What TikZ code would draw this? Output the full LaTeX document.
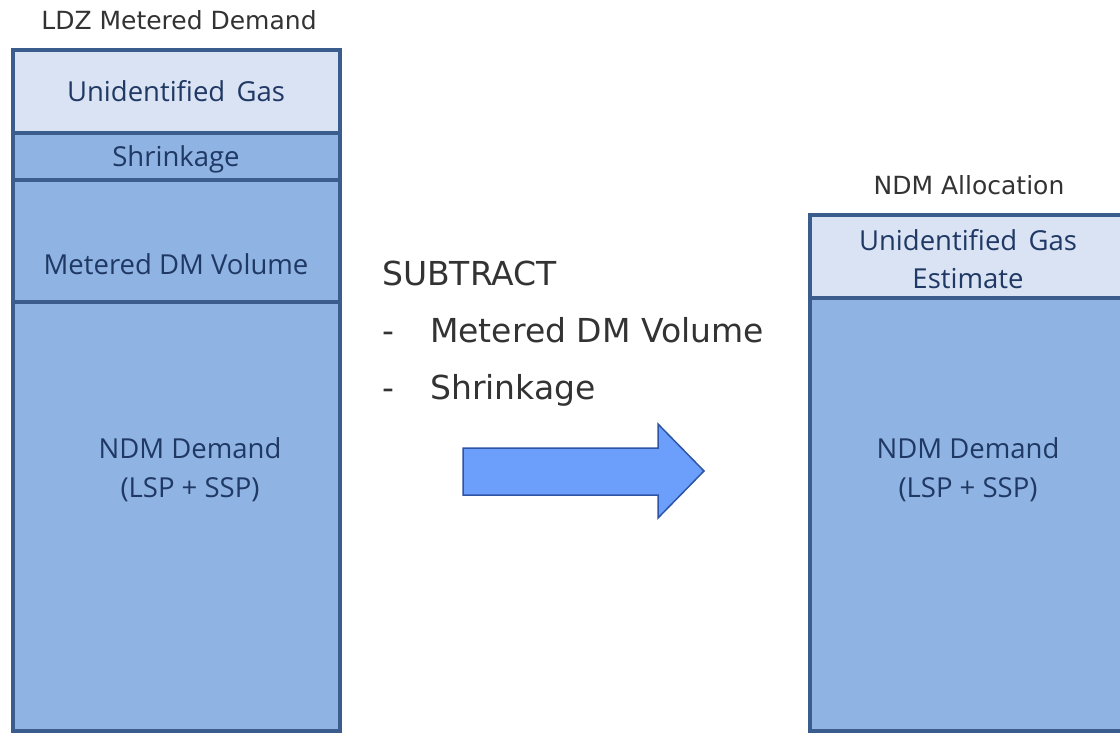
\documentclass[tikz,border=0pt]{standalone}
\usepackage{fontspec}
\setmainfont{DejaVu Sans}
\newfontfamily\boxfont{Open Sans}
\definecolor{segline}{HTML}{3A5D8D}
\definecolor{seglight}{HTML}{DAE3F3}
\definecolor{segmid}{HTML}{8FB3E2}
\definecolor{segtext}{HTML}{1F3864}
\definecolor{titletext}{HTML}{333333}
\definecolor{arrfill}{HTML}{6B9FFB}
\definecolor{arrline}{HTML}{2E55A5}
\tikzset{
  seg/.style={draw=segline, line width=4pt},
  segl/.style={seg, fill=seglight},
  segm/.style={seg, fill=segmid},
  boxtext/.style={inner sep=0pt, text=segtext, font=\boxfont\fontsize{27.5}{39}\selectfont, align=center},
  titlelbl/.style={inner sep=0pt, text=titletext, font=\fontsize{25}{30}\selectfont},
  subtxt/.style={inner sep=0pt, text=titletext, font=\fontsize{33}{40}\selectfont, anchor=base west},
}
\begin{document}
\begin{tikzpicture}[x=1pt,y=-1pt]
\useasboundingbox (0,0) rectangle (1120,733);
\fill[white] (0,0) rectangle (1120,733);
\begin{scope}
\clip (0,0) rectangle (1120,733);
% left column
\draw[segm] (13,302) rectangle (340,731);
\draw[segm] (13,180) rectangle (340,302);
\draw[segm] (13,133) rectangle (340,180);
\draw[segl] (13,50) rectangle (340,133);
% right column
\draw[segm] (810,298) rectangle (1135,731);
\draw[segl] (810,215) rectangle (1135,298);
% block arrow
\draw[fill=arrfill, draw=arrline, line width=1.5pt, line join=miter]
  (463,448) -- (658,448) -- (658,424) -- (704,471) -- (658,518) -- (658,495) -- (463,495) -- cycle;
\end{scope}
% titles
\node[titlelbl, anchor=base] (t1) at (179,30) {LDZ Metered Demand};
\node[titlelbl, anchor=base] (t2) at (969,195) {NDM Allocation};
% left texts
\node[boxtext, anchor=base] (ug) at (176,102) {Unidentified\hspace{0.15em} Gas};
\node[boxtext, anchor=base] (sh) at (176,167) {Shrinkage};
\node[boxtext, anchor=base] (md) at (176,274) {Metered DM Volume};
\node[boxtext] (nd) at (190,469.5) {NDM Demand\\(LSP + SSP)};
% right texts
\node[boxtext, anchor=base] (ug2) at (968,250) {Unidentified\hspace{0.15em} Gas};
\node[boxtext, anchor=base] (es) at (968,288) {Estimate};
\node[boxtext] (nd2) at (968,469.5) {NDM Demand\\(LSP + SSP)};
% subtract text
\node[subtxt] (sub) at (382,285) {SUBTRACT};
\node[subtxt] (d1) at (382,342) {-};
\node[subtxt] (s1) at (430,342) {Metered DM Volume};
\node[subtxt] (d2) at (382,399) {-};
\node[subtxt] (s2) at (430,399) {Shrinkage};
\end{tikzpicture}
\end{document}
